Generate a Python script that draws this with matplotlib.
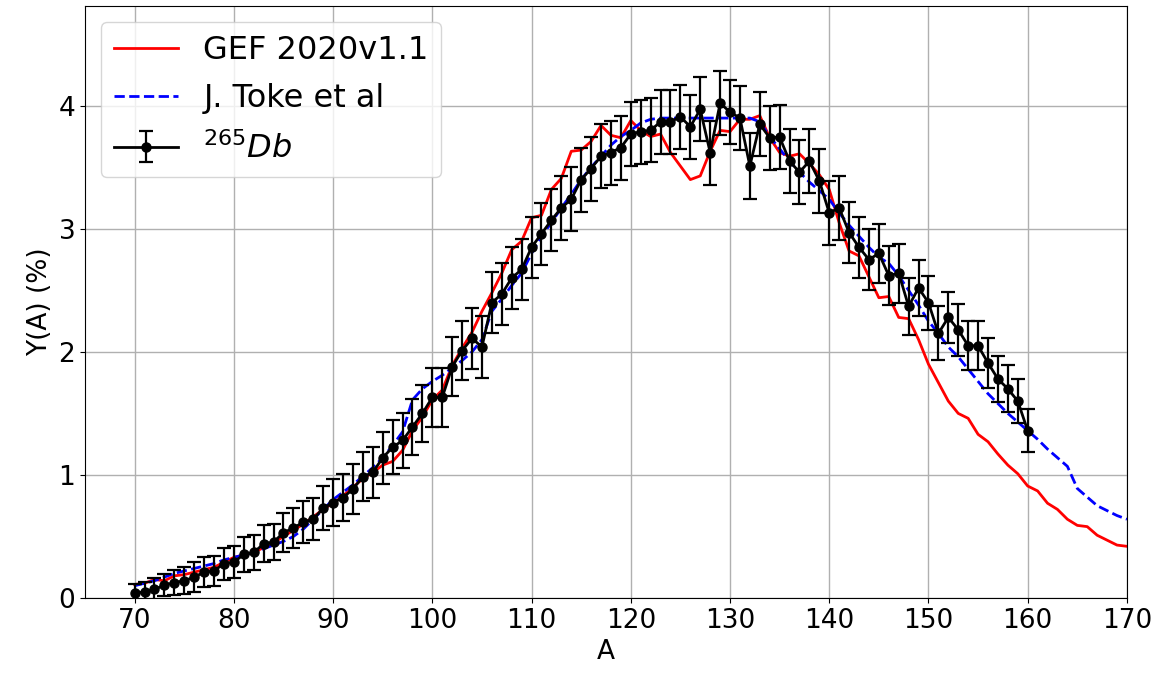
import numpy as np
import matplotlib
matplotlib.use("Agg")
import matplotlib.pyplot as plt

# Massa A para cada serie
A_gef = np.arange(70, 171)
A_toke = np.arange(70, 171)
A_db = np.arange(70, 161)

gef = [0.11, 0.12, 0.15, 0.14, 0.18, 0.19, 0.21, 0.23, 0.25, 0.29,
       0.33, 0.35, 0.37, 0.41, 0.45, 0.50, 0.55, 0.60, 0.66, 0.72,
       0.77, 0.83, 0.90, 0.97, 1.02, 1.08, 1.11, 1.20, 1.36, 1.47,
       1.61, 1.69, 1.89, 2.03, 2.16, 2.33, 2.48, 2.64, 2.83, 2.90,
       3.09, 3.11, 3.32, 3.41, 3.63, 3.64, 3.71, 3.84, 3.76, 3.74,
       3.88, 3.80, 3.75, 3.77, 3.62, 3.51, 3.40, 3.43, 3.63, 3.80,
       3.79, 3.89, 3.89, 3.92, 3.74, 3.62, 3.59, 3.61, 3.53, 3.44,
       3.32, 3.05, 2.82, 2.78, 2.61, 2.44, 2.45, 2.28, 2.27, 2.10,
       1.90, 1.75, 1.60, 1.50, 1.46, 1.33, 1.27, 1.17, 1.08, 1.01,
       0.91, 0.87, 0.77, 0.72, 0.64, 0.59, 0.58, 0.51, 0.47, 0.43,
       0.42]

toke = [0.10, 0.12, 0.14, 0.17, 0.20, 0.22, 0.24, 0.26, 0.28, 0.31,
        0.33, 0.35, 0.37, 0.40, 0.43, 0.46, 0.50, 0.56, 0.64, 0.72,
        0.80, 0.86, 0.92, 0.99, 1.06, 1.14, 1.24, 1.35, 1.61, 1.70,
        1.76, 1.81, 1.87, 1.93, 2.00, 2.10, 2.33, 2.43, 2.54, 2.64,
        2.80, 2.94, 3.05, 3.17, 3.28, 3.40, 3.50, 3.59, 3.68, 3.75,
        3.80, 3.86, 3.89, 3.90, 3.90, 3.90, 3.90, 3.90, 3.90, 3.90,
        3.90, 3.90, 3.90, 3.87, 3.75, 3.65, 3.55, 3.46, 3.38, 3.31,
        3.24, 3.13, 3.03, 2.94, 2.85, 2.77, 2.72, 2.62, 2.50, 2.38,
        2.25, 2.15, 2.04, 1.96, 1.86, 1.76, 1.66, 1.58, 1.50, 1.43,
        1.36, 1.29, 1.21, 1.14, 1.07, 0.89, 0.82, 0.75, 0.71, 0.67,
        0.64]

db = [0.04, 0.05, 0.07, 0.105, 0.125, 0.14, 0.17, 0.21, 0.22, 0.28,
      0.29, 0.355, 0.37, 0.44, 0.455, 0.53, 0.57, 0.615, 0.64, 0.73,
      0.775, 0.815, 0.886, 0.986, 1.02, 1.14, 1.225, 1.28, 1.39, 1.50,
      1.63, 1.63, 1.88, 2.01, 2.11, 2.04, 2.40, 2.47, 2.60, 2.67,
      2.85, 2.96, 3.07, 3.17, 3.24, 3.40, 3.49, 3.59, 3.62, 3.66,
      3.77, 3.79, 3.80, 3.87, 3.87, 3.91, 3.83, 3.97, 3.62, 4.02,
      3.95, 3.90, 3.51, 3.85, 3.74, 3.745, 3.55, 3.46, 3.55, 3.39,
      3.13, 3.17, 2.97, 2.85, 2.75, 2.80, 2.62, 2.64, 2.37, 2.52,
      2.40, 2.15, 2.28, 2.18, 2.05, 2.05, 1.91, 1.78, 1.70, 1.60,
      1.36]

db_err = [0.07, 0.08, 0.09, 0.09, 0.10, 0.11, 0.12, 0.12, 0.12, 0.13,
          0.13, 0.14, 0.14, 0.15, 0.15, 0.16, 0.16, 0.17, 0.17, 0.18,
          0.19, 0.19, 0.20, 0.20, 0.21, 0.21, 0.22, 0.22, 0.23, 0.23,
          0.24, 0.24, 0.24, 0.24, 0.25, 0.25, 0.25, 0.25, 0.25, 0.25,
          0.25, 0.25, 0.25, 0.26, 0.26, 0.26, 0.26, 0.26, 0.26, 0.26,
          0.26, 0.26, 0.26, 0.26, 0.26, 0.26, 0.26, 0.26, 0.26, 0.26,
          0.26, 0.26, 0.27, 0.26, 0.26, 0.26, 0.26, 0.26, 0.26, 0.26,
          0.26, 0.26, 0.25, 0.25, 0.25, 0.24, 0.24, 0.24, 0.23, 0.23,
          0.22, 0.22, 0.21, 0.21, 0.20, 0.20, 0.20, 0.19, 0.19, 0.18,
          0.175]

fig = plt.figure(figsize=(11.57, 6.77), dpi=100)
ax = fig.add_axes([0.0735, 0.1167, 0.9005, 0.8743])

ax.plot(A_gef, gef, color="red", linewidth=2, label="GEF 2020v1.1")
ax.plot(A_toke, toke, color="blue", linewidth=2, linestyle="--", label="J. Toke et al")
ax.errorbar(A_db, db, yerr=db_err, color="black", marker="o", markersize=6.5,
            linewidth=2, elinewidth=1.6, capsize=5, capthick=1.6,
            label=r"$^{265}Db$")

ax.set_xlim(65, 170)
ax.set_ylim(0, 4.81)
ax.set_xticks(np.arange(70, 171, 10))
ax.set_yticks([0, 1, 2, 3, 4])
ax.tick_params(labelsize=19)
ax.set_xlabel("A", fontsize=19)
ax.set_ylabel("Y(A) (%)", fontsize=19)
ax.grid(True, color="#b0b0b0", linewidth=1)

ax.legend(loc="upper left", fontsize=23, handlelength=2.0, labelspacing=0.55)

fig.savefig("out.png", dpi=100)
